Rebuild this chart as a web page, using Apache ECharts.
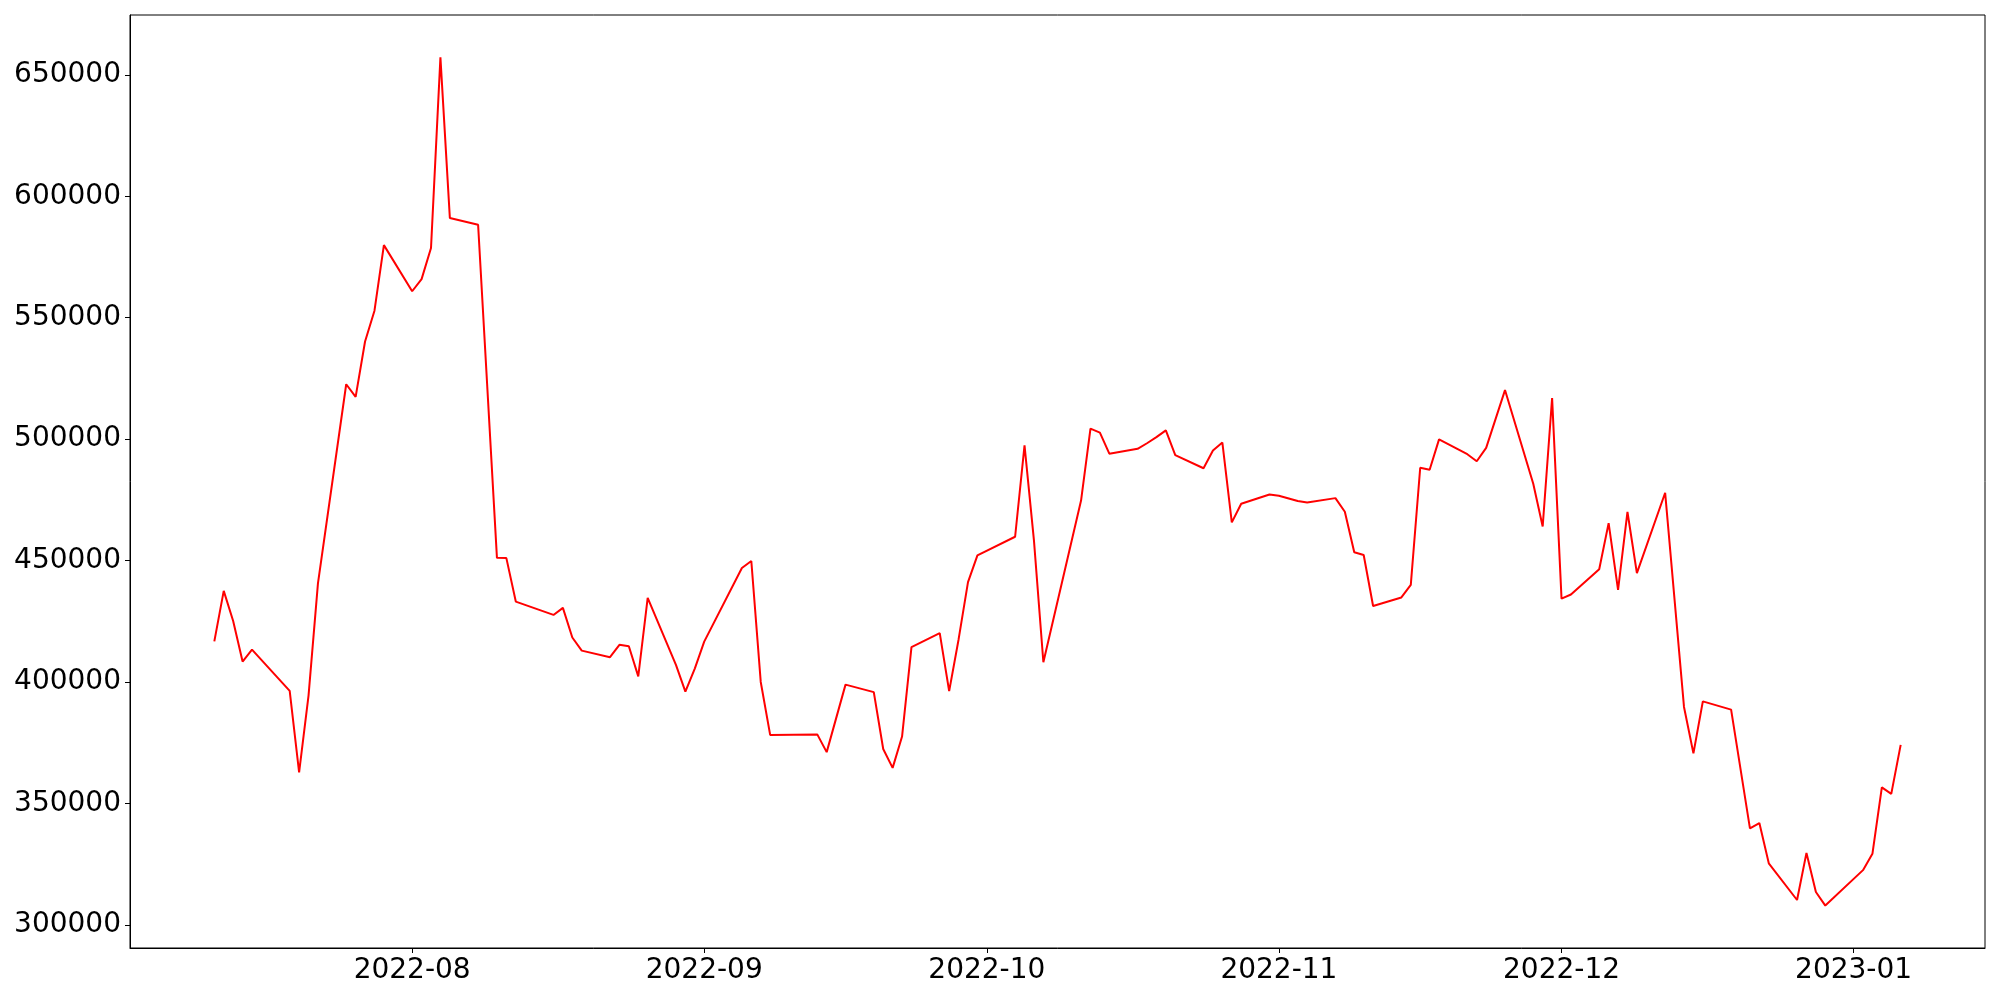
<!DOCTYPE html>
<html>
<head>
<meta charset="utf-8">
<script src="https://cdn.jsdelivr.net/npm/echarts@6/dist/echarts.min.js"></script>
<style>
  html, body { margin: 0; padding: 0; background: #fff; }
  #chart { width: 2000px; height: 1000px; }
</style>
</head>
<body>
<div id="chart"></div>
<script>
// dates and values
const dates = [
  '2022-07-11', '2022-07-12', '2022-07-13', '2022-07-14', '2022-07-15',
  '2022-07-19', '2022-07-20', '2022-07-21', '2022-07-22',
  '2022-07-25', '2022-07-26', '2022-07-27', '2022-07-28', '2022-07-29',
  '2022-08-01', '2022-08-02', '2022-08-03', '2022-08-04', '2022-08-05',
  '2022-08-08', '2022-08-10', '2022-08-11', '2022-08-12',
  '2022-08-16', '2022-08-17', '2022-08-18', '2022-08-19',
  '2022-08-22', '2022-08-23', '2022-08-24', '2022-08-25', '2022-08-26',
  '2022-08-29', '2022-08-30', '2022-08-31', '2022-09-01',
  '2022-09-05', '2022-09-06', '2022-09-07', '2022-09-08',
  '2022-09-13', '2022-09-14', '2022-09-16',
  '2022-09-19', '2022-09-20', '2022-09-21', '2022-09-22', '2022-09-23',
  '2022-09-26', '2022-09-27', '2022-09-28', '2022-09-29', '2022-09-30',
  '2022-10-04', '2022-10-05', '2022-10-06', '2022-10-07',
  '2022-10-11', '2022-10-12', '2022-10-13', '2022-10-14',
  '2022-10-17', '2022-10-18', '2022-10-19', '2022-10-20', '2022-10-21',
  '2022-10-24', '2022-10-25', '2022-10-26', '2022-10-27', '2022-10-28',
  '2022-10-31', '2022-11-01', '2022-11-03', '2022-11-04',
  '2022-11-07', '2022-11-08', '2022-11-09', '2022-11-10', '2022-11-11',
  '2022-11-14', '2022-11-15', '2022-11-16', '2022-11-17', '2022-11-18',
  '2022-11-21', '2022-11-22', '2022-11-23', '2022-11-25',
  '2022-11-28', '2022-11-29', '2022-11-30', '2022-12-01', '2022-12-02',
  '2022-12-05', '2022-12-06', '2022-12-07', '2022-12-08', '2022-12-09',
  '2022-12-12', '2022-12-14', '2022-12-15', '2022-12-16',
  '2022-12-19', '2022-12-21', '2022-12-22', '2022-12-23',
  '2022-12-26', '2022-12-27', '2022-12-28', '2022-12-29',
  '2023-01-02', '2023-01-03', '2023-01-04', '2023-01-05', '2023-01-06'
];

const values = [
  416700, 437500, 425100, 408400, 413300,
  396300, 362800, 394400, 440600,
  522600, 517400, 540200, 552900, 579900,
  560900, 565900, 578700, 657200, 591100,
  588300, 451100, 451000, 433100,
  427600, 430500, 418300, 412900,
  410200, 415300, 414700, 402300, 434600,
  407000, 396000, 405500, 416600,
  446900, 449800, 400000, 378200,
  378400, 371100, 398900,
  395800, 372400, 364600, 377500, 414300,
  420100, 396200, 417500, 441100, 452100,
  459800, 497400, 458300, 408100,
  474700, 504300, 502700, 494000,
  496000, 498300, 500800, 503600, 493400,
  488000, 495300, 498600, 465700, 473400,
  477200, 476700, 474500, 473900,
  475700, 470100, 453400, 452300, 431300,
  434800, 440000, 488200, 487400, 499900,
  493800, 490900, 496400, 520200,
  481600, 464000, 516900, 434300, 436000,
  446400, 465400, 437900, 470000, 444800,
  477900, 389700, 370600, 392000,
  388600, 339700, 341900, 325300,
  310200, 329600, 313500, 307900,
  322500, 329200, 356600, 353900, 374100
];

const xTicks = ['2022-08-01', '2022-09-01', '2022-10-01', '2022-11-01', '2022-12-01', '2023-01-01'];
const yTicks = [300000, 350000, 400000, 450000, 500000, 550000, 600000, 650000];

function toTime(s) {
  const p = s.split('-').map(Number);
  return Date.UTC(p[0], p[1] - 1, p[2]);
}

const times = dates.map(toTime);
const seriesData = times.map((t, i) => [t, values[i]]);

// matplotlib style 5% margins
const tMin = Math.min(...times), tMax = Math.max(...times);
const tPad = (tMax - tMin) * 0.05;
const vMin = Math.min(...values), vMax = Math.max(...values);
const vPad = (vMax - vMin) * 0.05;

const font = { fontFamily: 'DejaVu Sans', fontSize: 28, color: '#000' };

const chart = echarts.init(document.getElementById('chart'), null, { renderer: 'canvas' });

chart.setOption({
  animation: false,
  backgroundColor: '#fff',
  grid: {
    left: 130,
    right: 15,
    top: 15,
    bottom: 52,
    show: true,
    borderColor: '#000',
    borderWidth: 1,
    outerBoundsMode: 'none'
  },
  xAxis: {
    type: 'value',
    min: tMin - tPad,
    max: tMax + tPad,
    axisLine: { show: true, onZero: false, lineStyle: { color: '#000', width: 1 } },
    axisTick: {
      show: true,
      length: 5,
      lineStyle: { color: '#000' },
      customValues: xTicks.map(toTime)
    },
    axisLabel: Object.assign({
      margin: 9,
      customValues: xTicks.map(toTime),
      formatter: function (val) {
        const d = new Date(val);
        const m = d.getUTCMonth() + 1;
        return d.getUTCFullYear() + '-' + (m < 10 ? '0' + m : m);
      }
    }, font),
    splitLine: { show: false }
  },
  yAxis: {
    type: 'value',
    min: vMin - vPad,
    max: vMax + vPad,
    axisLine: { show: true, onZero: false, lineStyle: { color: '#000', width: 1 } },
    axisTick: {
      show: true,
      length: 5,
      lineStyle: { color: '#000' },
      customValues: yTicks
    },
    axisLabel: Object.assign({
      margin: 9,
      customValues: yTicks,
      formatter: function (val) { return String(Math.round(val)); }
    }, font),
    splitLine: { show: false }
  },
  series: [
    {
      type: 'line',
      data: seriesData,
      showSymbol: false,
      symbol: 'none',
      lineStyle: { color: '#ff0000', width: 2 },
      itemStyle: { color: '#ff0000' }
    }
  ]
});
</script>
</body>
</html>
